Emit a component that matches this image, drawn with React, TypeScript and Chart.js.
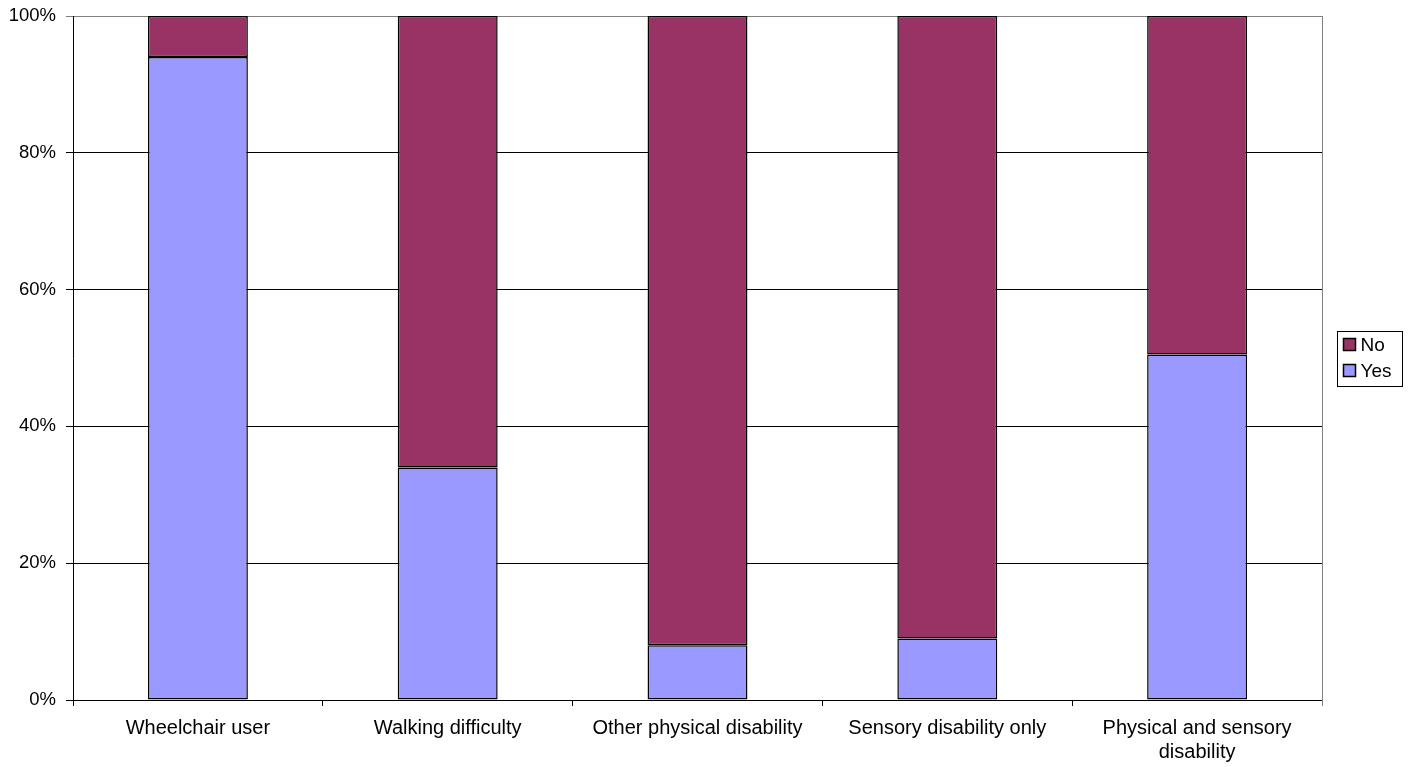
import React, { useEffect, useRef } from "react";
import { Chart, registerables } from "chart.js";

Chart.register(...registerables);

const categories: (string | string[])[] = [
  "Wheelchair user",
  "Walking difficulty",
  "Other physical disability",
  "Sensory disability only",
  ["Physical and sensory", "disability"],
];
const yesValues = [94, 34, 8, 9, 50.5];
const noValues = [6, 66, 92, 91, 49.5];
const yTicks = [0, 20, 40, 60, 80, 100];

const FONT = "'Liberation Sans', Arial, sans-serif";

const frame = {
  id: "frame",
  afterDraw(chart: any) {
    const { ctx, chartArea } = chart;
    ctx.save();
    // right border of plot area
    ctx.strokeStyle = "#808080";
    ctx.lineWidth = 1;
    ctx.beginPath();
    ctx.moveTo(Math.round(chartArea.right) + 0.5, chartArea.top);
    ctx.lineTo(Math.round(chartArea.right) + 0.5, chartArea.bottom + 6);
    ctx.stroke();
    // legend
    const bx = 1337.5, by = 331.5, bw = 65, bh = 55;
    ctx.strokeStyle = "#000";
    ctx.strokeRect(bx, by, bw, bh);
    const ds = chart.data.datasets.slice().reverse();
    ctx.font = `19px ${FONT}`;
    ctx.textBaseline = "middle";
    ctx.textAlign = "left";
    ds.forEach((d: any, i: number) => {
      const cy = by + 13 + i * 26;
      ctx.fillStyle = d.backgroundColor;
      ctx.fillRect(bx + 6, cy - 6, 12, 12);
      ctx.strokeStyle = "#000";
      ctx.lineWidth = 1.5;
      ctx.strokeRect(bx + 6, cy - 6, 12, 12);
      ctx.fillStyle = "#000";
      ctx.fillText(d.label, bx + 23, cy + 1);
    });
    ctx.restore();
  },
};

export default function App() {
  const ref = useRef<HTMLCanvasElement>(null);
  useEffect(() => {
    document.body.style.margin = "0";
    const chart = new Chart(ref.current!, {
      type: "bar",
      data: {
        labels: categories,
        datasets: [
          {
            label: "Yes",
            data: yesValues,
            backgroundColor: "#9999FF",
            borderColor: "#000",
            borderWidth: 1.5,
            borderSkipped: false,
          },
          {
            label: "No",
            data: noValues,
            backgroundColor: "#993366",
            borderColor: "#000",
            borderWidth: 1.5,
            borderSkipped: false,
          },
        ],
      },
      options: {
        animation: false,
        responsive: false,
        maintainAspectRatio: false,
        layout: { padding: { top: 16, right: 91, left: 0, bottom: 0 } },
        plugins: { legend: { display: false }, tooltip: { enabled: false } },
        datasets: { bar: { categoryPercentage: 1, barPercentage: 0.4 } },
        scales: {
          x: {
            stacked: true,
            afterFit: (s: any) => { s.height = 67; },
            grid: {
              offset: true,
              drawOnChartArea: false,
              drawTicks: true,
              tickLength: 6,
              color: "#000",
            },
            border: { color: "#000", width: 1 },
            ticks: {
              color: "#000",
              font: { family: FONT, size: 20, lineHeight: 1.2 },
              padding: 10,
              maxRotation: 0,
              autoSkip: false,
            },
          },
          y: {
            stacked: true,
            min: 0,
            max: 100,
            afterFit: (s: any) => { s.width = 73; },
            afterBuildTicks: (s: any) => { s.ticks = yTicks.map((v) => ({ value: v })); },
            grid: {
              tickLength: 7,
              color: (c: any) => (c.tick && c.tick.value === 100 ? "#808080" : "#000"),
            },
            border: { color: "#000", width: 1 },
            ticks: {
              color: "#000",
              font: { family: FONT, size: 18.5, lineHeight: 0.6 },
              padding: 10,
              callback: (v: any) => v + "%",
            },
          },
        },
      },
      plugins: [frame],
    });
    return () => chart.destroy();
  }, []);
  return (
    <div style={{ width: 1413, height: 767 }}>
      <canvas ref={ref} width={1413} height={767} style={{ display: "block" }} />
    </div>
  );
}
